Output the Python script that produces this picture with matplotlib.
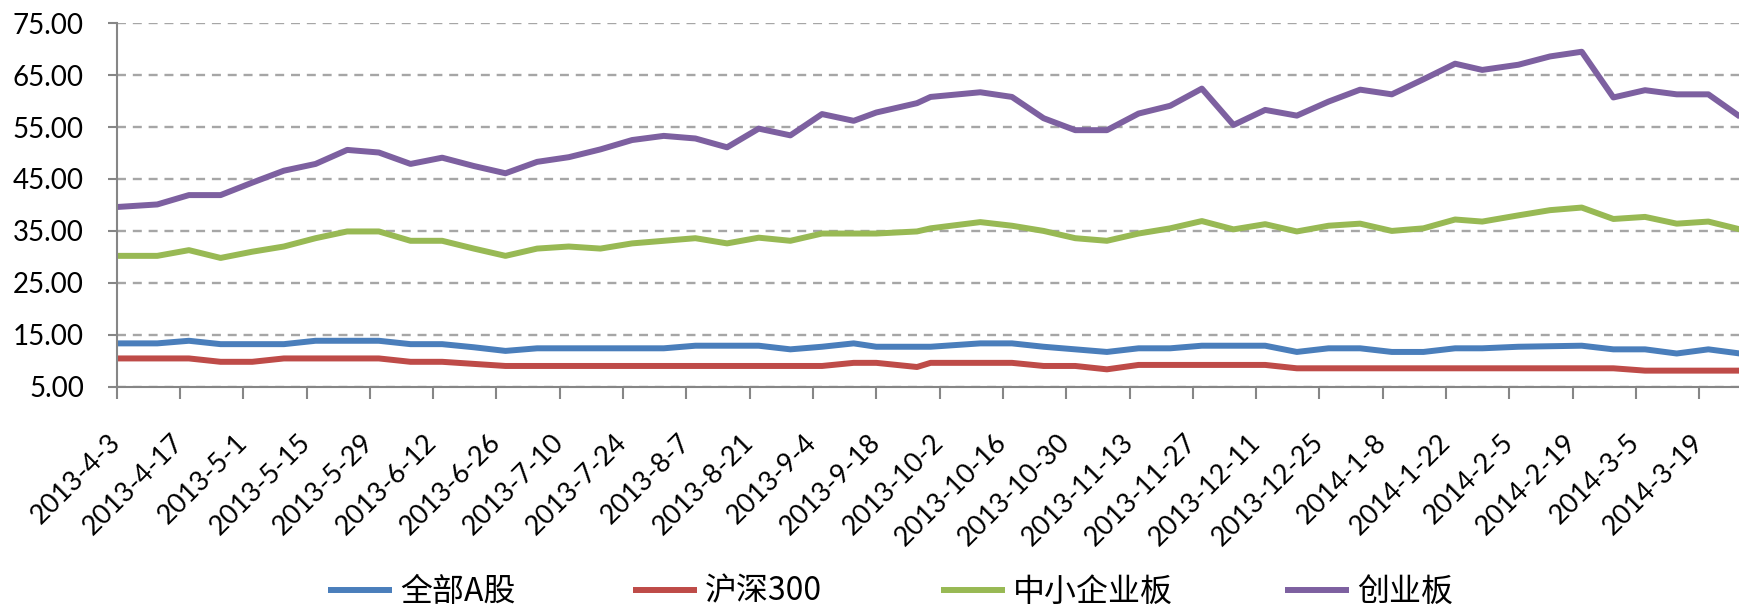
import pandas as pd
import matplotlib
matplotlib.use("Agg")
import matplotlib.pyplot as plt
from matplotlib.ticker import FixedLocator, FormatStrFormatter

# weekly closing dates (last trading day of each week)
dates = ["2013-04-03", "2013-04-12", "2013-04-19", "2013-04-26", "2013-05-03",
         "2013-05-10", "2013-05-17", "2013-05-24", "2013-05-31", "2013-06-07",
         "2013-06-14", "2013-06-21", "2013-06-28", "2013-07-05", "2013-07-12",
         "2013-07-19", "2013-07-26", "2013-08-02", "2013-08-09", "2013-08-16",
         "2013-08-23", "2013-08-30", "2013-09-06", "2013-09-13", "2013-09-18",
         "2013-09-27", "2013-09-30", "2013-10-11", "2013-10-18", "2013-10-25",
         "2013-11-01", "2013-11-08", "2013-11-15", "2013-11-22", "2013-11-29",
         "2013-12-06", "2013-12-13", "2013-12-20", "2013-12-27", "2014-01-03",
         "2014-01-10", "2014-01-17", "2014-01-24", "2014-01-30", "2014-02-07",
         "2014-02-14", "2014-02-21", "2014-02-28", "2014-03-07", "2014-03-14",
         "2014-03-21", "2014-03-28"]

all_a = [13.35, 13.35, 13.85, 13.2, 13.2, 13.2, 13.85, 13.85, 13.85, 13.2,
         13.2, 12.6, 11.9, 12.4, 12.4, 12.4, 12.4, 12.4, 12.9, 12.9,
         12.9, 12.2, 12.7, 13.35, 12.7, 12.7, 12.7, 13.35, 13.35, 12.7,
         12.2, 11.7, 12.4, 12.4, 12.9, 12.9, 12.9, 11.7, 12.4, 12.4,
         11.7, 11.7, 12.4, 12.4, 12.7, 12.8, 12.9, 12.2, 12.2, 11.4,
         12.2, 11.4]

hs300 = [10.45, 10.45, 10.45, 9.8, 9.8, 10.45, 10.45, 10.45, 10.45, 9.8,
         9.8, 9.4, 9.0, 9.0, 9.0, 9.0, 9.0, 9.0, 9.0, 9.0,
         9.0, 9.0, 9.0, 9.6, 9.6, 8.8, 9.6, 9.6, 9.6, 9.0,
         9.0, 8.35, 9.2, 9.2, 9.2, 9.2, 9.2, 8.55, 8.55, 8.55,
         8.55, 8.55, 8.55, 8.55, 8.55, 8.55, 8.55, 8.55, 8.1, 8.1,
         8.1, 8.1]

sme = [30.2, 30.2, 31.3, 29.8, 31.0, 32.0, 33.6, 34.9, 34.9, 33.1,
       33.1, 31.6, 30.2, 31.6, 32.0, 31.6, 32.6, 33.1, 33.6, 32.6,
       33.7, 33.1, 34.5, 34.5, 34.5, 34.9, 35.5, 36.7, 36.0, 35.0,
       33.6, 33.1, 34.5, 35.5, 36.9, 35.3, 36.3, 34.9, 36.0, 36.4,
       35.0, 35.5, 37.2, 36.8, 38.0, 39.0, 39.5, 37.3, 37.7, 36.4,
       36.8, 35.3]

gem = [39.6, 40.1, 41.9, 41.9, 44.3, 46.6, 47.9, 50.6, 50.1, 47.9,
       49.1, 47.5, 46.1, 48.3, 49.2, 50.7, 52.5, 53.3, 52.8, 51.1,
       54.7, 53.4, 57.5, 56.2, 57.8, 59.6, 60.8, 61.7, 60.8, 56.7,
       54.4, 54.4, 57.6, 59.1, 62.4, 55.4, 58.3, 57.2, 59.9, 62.2,
       61.3, 64.2, 67.2, 66.0, 67.0, 68.6, 69.5, 60.7, 62.1, 61.3,
       61.3, 57.0]

series_names = ["全部A股", "沪深300", "中小企业板", "创业板"]
series_colors = ["#4A7EBB", "#BE4B48", "#98B954", "#7D60A0"]

tick_labels = ["2013-4-3", "2013-4-17", "2013-5-1", "2013-5-15", "2013-5-29",
               "2013-6-12", "2013-6-26", "2013-7-10", "2013-7-24", "2013-8-7",
               "2013-8-21", "2013-9-4", "2013-9-18", "2013-10-2", "2013-10-16",
               "2013-10-30", "2013-11-13", "2013-11-27", "2013-12-11", "2013-12-25",
               "2014-1-8", "2014-1-22", "2014-2-5", "2014-2-19", "2014-3-5",
               "2014-3-19"]

y_ticks = [5, 15, 25, 35, 45, 55, 65, 75]

x = pd.to_datetime(dates)
tick_pos = pd.to_datetime(tick_labels)

fig = plt.figure(figsize=(17.4, 6.1), dpi=100)
ax = fig.add_axes([0.067, 0.366, 0.933, 0.596])

lines = []
for vals, name, color in zip([all_a, hs300, sme, gem], series_names, series_colors):
    ln, = ax.plot(x, vals, color=color, lw=4.3, label=name,
                  solid_joinstyle="round", solid_capstyle="butt")
    lines.append(ln)

ax.set_xlim(x[0], x[-1])
ax.set_ylim(5, 75)

# y axis
ax.yaxis.set_major_locator(FixedLocator(y_ticks))
ax.yaxis.set_major_formatter(FormatStrFormatter("%.2f"))
ax.yaxis.grid(True, color="#A6A6A6", lw=1.7, ls=(0, (3.8, 2.9)))
ax.set_axisbelow(True)

# x axis: dates every two weeks
ax.set_xticks(tick_pos)
ax.set_xticklabels(tick_labels, rotation=45, ha="right", va="center",
                   rotation_mode="anchor")

for side in ["top", "right"]:
    ax.spines[side].set_visible(False)
for side in ["left", "bottom"]:
    ax.spines[side].set_color("#868686")
    ax.spines[side].set_linewidth(1.5)

ax.tick_params(axis="y", direction="out", length=6.5, width=1.5,
               color="#868686", pad=17, labelsize=20)
ax.tick_params(axis="x", direction="out", length=8.4, width=1.5,
               color="#868686", pad=29, labelsize=19.5)
for lab in ax.get_xticklabels() + ax.get_yticklabels():
    lab.set_family(["Lato", "DejaVu Sans"])

# legend entries laid out along the bottom
legend_x = [328, 633, 941, 1285]
for ln, lx in zip(lines, legend_x):
    fig.legend(handles=[ln], loc="center left", bbox_to_anchor=(lx / 1740, 0.03),
               frameon=False, borderpad=0, borderaxespad=0, handlelength=2.0,
               handletextpad=0.25,
               prop={"family": ["Noto Sans CJK SC", "DejaVu Sans"], "size": 23})

fig.savefig("out.png", dpi=100)
